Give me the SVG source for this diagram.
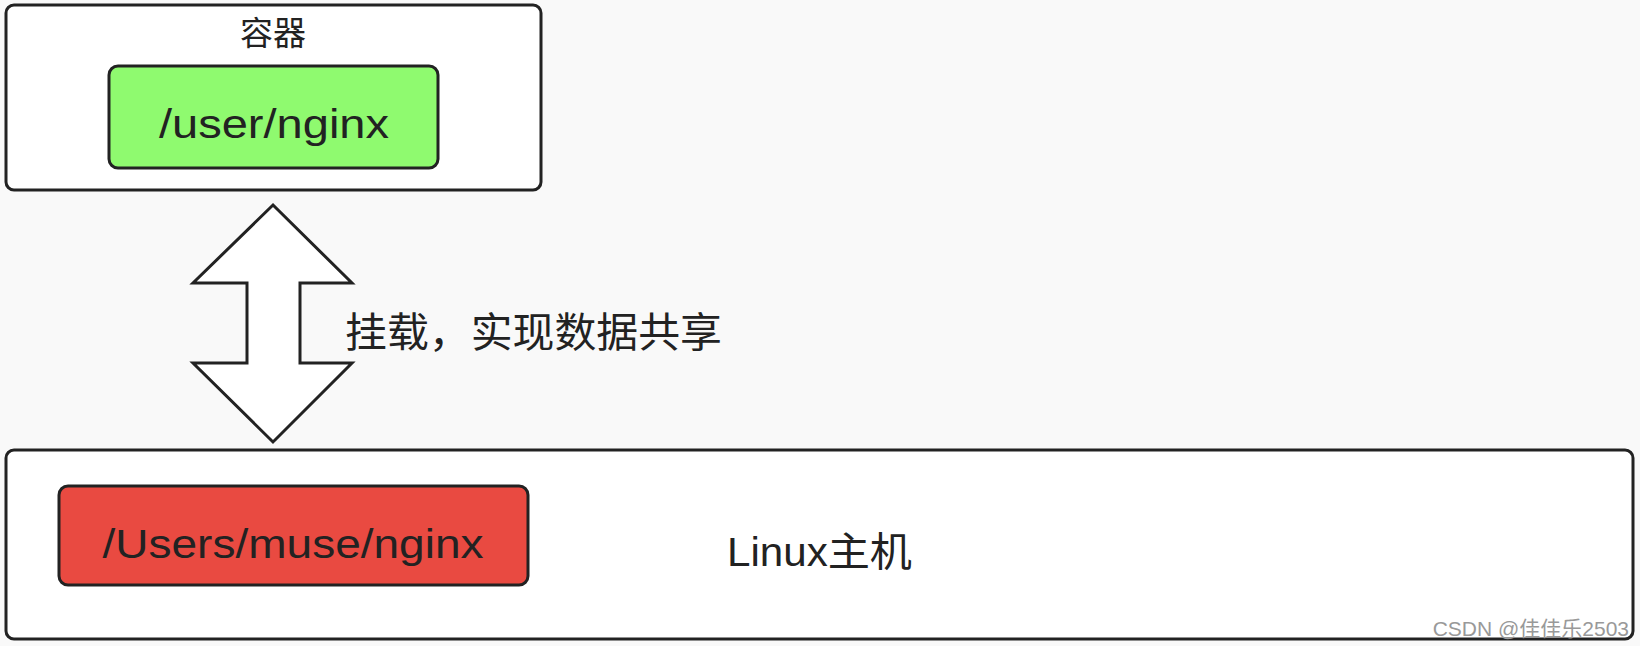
<svg xmlns="http://www.w3.org/2000/svg" width="1640" height="646" viewBox="0 0 1640 646">
<style>
.box{fill:#fff;stroke:#222;stroke-width:3}
text{font-family:"Liberation Sans","Noto Sans CJK SC",sans-serif;fill:#222}
</style>
<rect width="1640" height="646" fill="#f9f9f9"/>
<g id="container">
<rect class="box" x="6" y="5" width="535" height="185" rx="8"/>
<text x="273" y="45" font-size="33" text-anchor="middle">容器</text>
</g>
<g id="user-nginx">
<rect x="109" y="66" width="329" height="102" rx="9" fill="#8ffa6f" stroke="#222" stroke-width="3"/>
<text x="274" y="138" font-size="40" text-anchor="middle" textLength="230" lengthAdjust="spacingAndGlyphs">/user/nginx</text>
</g>
<g id="connectors">
<polygon points="273,205 352,283 300,283 300,363 352,363 273,442 193,363 247,363 247,283 193,283" fill="#fff" stroke="#222" stroke-width="3"/>
<text x="345" y="347" font-size="41" textLength="377" lengthAdjust="spacingAndGlyphs">挂载，实现数据共享</text>
</g>
<g id="host">
<rect class="box" x="6" y="450" width="1627" height="189" rx="8"/>
<text x="727" y="566" font-size="40" textLength="185" lengthAdjust="spacingAndGlyphs">Linux主机</text>
</g>
<g id="users-muse-nginx">
<rect x="59" y="486" width="469" height="99" rx="9" fill="#e94a41" stroke="#222" stroke-width="3"/>
<text x="293" y="558" font-size="40" text-anchor="middle" textLength="381" lengthAdjust="spacingAndGlyphs">/Users/muse/nginx</text>
</g>
<text x="1629" y="636" font-size="21" text-anchor="end" style="fill:#999">CSDN @佳佳乐2503</text>
</svg>
